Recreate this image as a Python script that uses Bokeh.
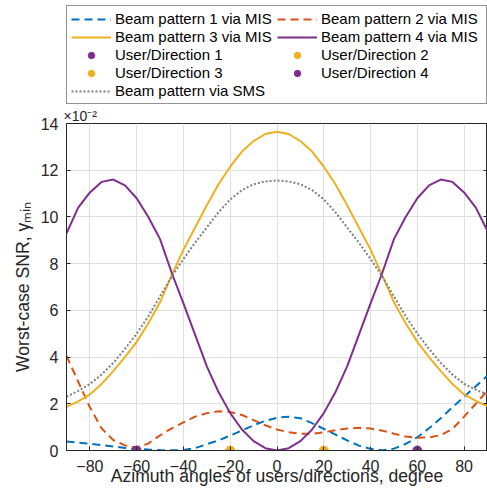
from bokeh.plotting import figure
from bokeh.layouts import column
from bokeh.models import Legend, LegendItem, LinearAxis, FixedTicker, Range1d, Title
from bokeh.embed import file_html
from bokeh.resources import INLINE

# ---------------- data (values in units of 1e-2) ----------------
angles = [-90, -85, -80, -75, -70, -65, -60, -55, -50, -45, -40, -35, -30, -25, -20, -15, -10, -5, 0,
          5, 10, 15, 20, 25, 30, 35, 40, 45, 50, 55, 60, 65, 70, 75, 80, 85, 90]

beam1_mis = [0.39, 0.34, 0.29, 0.23, 0.17, 0.11, 0.07, 0.04, 0.02, 0.01, 0.02, 0.10, 0.27, 0.43, 0.64, 0.86, 1.08, 1.27, 1.40,
             1.45, 1.38, 1.17, 0.93, 0.68, 0.43, 0.21, 0.07, 0.01, 0.08, 0.28, 0.57, 0.95, 1.38, 1.85, 2.30, 2.75, 3.20]

beam2_mis = [4.05, 2.95, 1.85, 0.95, 0.45, 0.22, 0.13, 0.30, 0.65, 0.95, 1.20, 1.45, 1.60, 1.68, 1.65, 1.52, 1.30, 1.08, 0.90,
             0.78, 0.72, 0.72, 0.78, 0.87, 0.94, 0.97, 0.94, 0.85, 0.72, 0.60, 0.55, 0.56, 0.66, 0.92, 1.45, 2.00, 2.57]

beam3_mis = [1.87, 2.10, 2.40, 2.85, 3.40, 4.00, 4.65, 5.45, 6.35, 7.50, 8.60, 9.55, 10.50, 11.40, 12.15, 12.80, 13.25, 13.55, 13.65,
             13.55, 13.25, 12.80, 12.15, 11.40, 10.50, 9.55, 8.60, 7.50, 6.35, 5.45, 4.65, 4.00, 3.40, 2.85, 2.40, 2.12, 1.90]

beam4_mis = [9.30, 10.40, 11.05, 11.50, 11.60, 11.35, 10.80, 10.00, 9.05, 7.60, 6.30, 4.95, 3.60, 2.50, 1.60, 0.90, 0.40, 0.10, 0.00,
             0.10, 0.40, 0.90, 1.60, 2.50, 3.60, 4.95, 6.30, 7.60, 9.05, 10.00, 10.80, 11.35, 11.60, 11.50, 11.05, 10.40, 9.40]

beam_sms = [2.30, 2.55, 2.85, 3.25, 3.75, 4.35, 5.00, 5.75, 6.60, 7.45, 8.20, 8.90, 9.55, 10.20, 10.75, 11.15, 11.40, 11.52, 11.56,
            11.52, 11.40, 11.15, 10.75, 10.20, 9.55, 8.90, 8.20, 7.45, 6.60, 5.75, 5.00, 4.35, 3.75, 3.25, 2.85, 2.60, 2.40]

user_angles = [-60, -20, 20, 60]     # User/Direction 1..4
user_values = [0, 0, 0, 0]

x_ticks = [-80, -60, -40, -20, 0, 20, 40, 60, 80]
y_ticks = [0, 2, 4, 6, 8, 10, 12, 14]

# ---------------- styling ----------------
BLUE = "#0072BD"
RED = "#D95319"
YELLOW = "#EDB120"
PURPLE = "#7E2F8E"
GRAY = "#7f7f7f"
AX = "#262626"
FONT = "Liberation Sans"

beam_series = [beam1_mis, beam2_mis, beam3_mis, beam4_mis]
beam_style = [(BLUE, "8 5"), (RED, "8 5"), (YELLOW, "solid"), (PURPLE, "solid")]
user_colors = [PURPLE, YELLOW, YELLOW, PURPLE]


def draw_series(fig):
    lines = []
    for ys, (col, dash) in zip(beam_series, beam_style):
        lines.append(fig.line(angles, ys, line_color=col, line_width=2, line_dash=dash))
    users = []
    for i in range(4):
        users.append(fig.scatter([user_angles[i]], [user_values[i]], marker="circle", size=9,
                                 fill_color=user_colors[i], line_color=user_colors[i]))
    sms = fig.line(angles, beam_sms, line_color=GRAY, line_width=2, line_dash="2 2")
    return lines, users, sms


# ================= main plot =================
p = figure(width=487, height=383, x_range=Range1d(-90, 90), y_range=Range1d(0, 14),
           output_backend="svg", toolbar_location=None,
           min_border_left=66, min_border_right=0, min_border_top=16, min_border_bottom=38)
p.outline_line_color = AX
p.outline_line_width = 1

for ax, ticks in ((p.xaxis[0], x_ticks), (p.yaxis[0], y_ticks)):
    ax.ticker = FixedTicker(ticks=ticks)
    ax.major_label_text_font = FONT
    ax.major_label_text_font_size = "16px"
    ax.major_label_text_color = AX
    ax.axis_line_color = AX
    ax.major_tick_line_color = AX
    ax.major_tick_in = 4
    ax.major_tick_out = 0
    ax.minor_tick_in = 0
    ax.minor_tick_out = 0
    ax.axis_label_text_font = FONT
    ax.axis_label_text_font_size = "17.6px"
    ax.axis_label_text_font_style = "normal"
    ax.axis_label_text_color = AX
p.xaxis[0].major_label_standoff = 9
p.yaxis[0].major_label_standoff = 8
p.xaxis[0].axis_label = "Azimuth angles of users/directions, degree"
p.xaxis[0].axis_label_standoff = -9
p.yaxis[0].axis_label = "Worst-case SNR, γₘᵢₙ"
p.yaxis[0].axis_label_standoff = 5

right_axis = LinearAxis(ticker=FixedTicker(ticks=y_ticks), major_label_text_font_size="0px",
                        major_label_standoff=0, major_tick_in=4, major_tick_out=0,
                        minor_tick_in=0, minor_tick_out=0, axis_line_color=AX,
                        major_tick_line_color=AX)
p.add_layout(right_axis, "right")

p.xgrid.ticker = FixedTicker(ticks=x_ticks)
p.ygrid.ticker = FixedTicker(ticks=y_ticks)
p.xgrid.grid_line_color = "#dfdfdf"
p.ygrid.grid_line_color = "#dfdfdf"

# exponent of the y axis, just above the frame
p.add_layout(Title(text="×10⁻²", align="left", offset=-3, standoff=0,
                   text_font=FONT, text_font_size="14px", text_font_style="normal",
                   text_color=AX), "above")

draw_series(p)

# ================= legend strip (above the axes) =================
# same series drawn far outside this strip's visible y-range; only the legend shows
t = figure(width=487, height=105, x_range=Range1d(-90, 90), y_range=Range1d(1000, 1001),
           x_axis_type=None, y_axis_type=None, output_backend="svg", toolbar_location=None,
           min_border=0)
t.outline_line_color = None
t.xgrid.visible = False
t.ygrid.visible = False

lr, ur, sr = draw_series(t)

items = [
    LegendItem(label="Beam pattern 1 via MIS", renderers=[lr[0]]),
    LegendItem(label="Beam pattern 3 via MIS", renderers=[lr[2]]),
    LegendItem(label="User/Direction 1", renderers=[ur[0]]),
    LegendItem(label="User/Direction 3", renderers=[ur[2]]),
    LegendItem(label="Beam pattern via SMS", renderers=[sr]),
    LegendItem(label="Beam pattern 2 via MIS", renderers=[lr[1]]),
    LegendItem(label="Beam pattern 4 via MIS", renderers=[lr[3]]),
    LegendItem(label="User/Direction 2", renderers=[ur[1]]),
    LegendItem(label="User/Direction 4", renderers=[ur[3]]),
]
legend = Legend(items=items, location=(0, 1), nrows=5,
                glyph_width=40, glyph_height=16, label_height=16, label_width=161,
                label_standoff=4, padding=4, spacing=1, margin=0,
                label_text_font=FONT, label_text_font_size="15px", label_text_color="#000000",
                border_line_color=AX, border_line_width=1,
                background_fill_color="white", background_fill_alpha=1.0)
t.add_layout(legend, "center")

layout = column(t, p, spacing=0)
open("out.html", "w").write(file_html(layout, INLINE))
